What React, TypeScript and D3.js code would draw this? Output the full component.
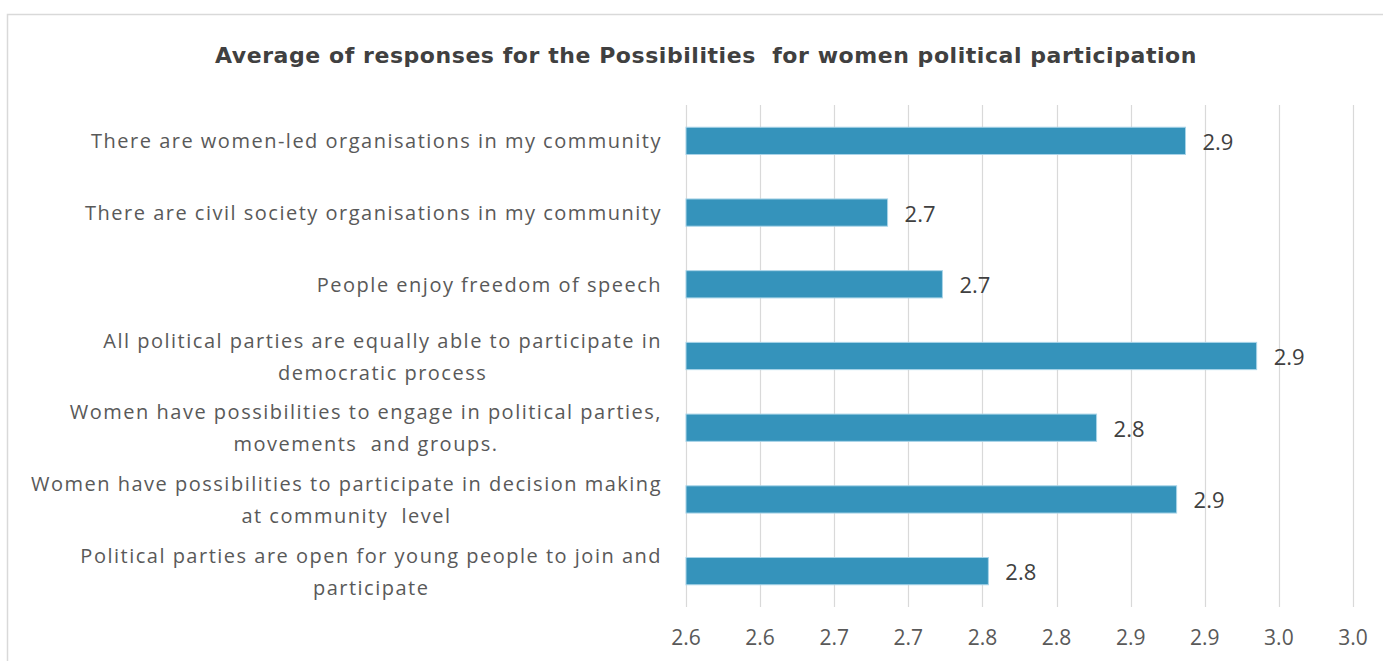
import React, { useEffect, useRef } from "react";
import * as d3 from "d3";

const TITLE = "Average of responses for the Possibilities  for women political participation";

const categories: string[] = [
  "There are women-led organisations in my community",
  "There are civil society organisations in my community",
  "People enjoy freedom of speech",
  "All political parties are equally able to participate in\ndemocratic process",
  "Women have possibilities to engage in political parties,\nmovements  and groups.",
  "Women have possibilities to participate in decision making\nat community  level",
  "Political parties are open for young people to join and\nparticipate",
];

const values: number[] = [2.887, 2.686, 2.723, 2.935, 2.827, 2.881, 2.754];

const valueLabels: string[] = ["2.9", "2.7", "2.7", "2.9", "2.8", "2.9", "2.8"];

const tickValues: number[] = [2.55, 2.6, 2.65, 2.7, 2.75, 2.8, 2.85, 2.9, 2.95, 3.0];
const tickLabels: string[] = ["2.6", "2.6", "2.7", "2.7", "2.8", "2.8", "2.9", "2.9", "3.0", "3.0"];

const W = 1383;
const H = 661;
const FONT = "'Open Sans', 'DejaVu Sans', sans-serif";
const TITLE_FONT = "'DejaVu Sans', 'Open Sans', sans-serif";
const TEXT = "#595959";

export default function App() {
  const ref = useRef<SVGSVGElement | null>(null);

  useEffect(() => {
    const svg = d3.select(ref.current);
    svg.selectAll("*").remove();

    const x = d3.scaleLinear().domain([2.55, 3.0]).range([686, 1353]);
    const y = d3
      .scaleBand<number>()
      .domain(d3.range(categories.length))
      .range([105, 607])
      .paddingInner(0.62)
      .paddingOuter(0.31);

    // outer border
    svg
      .append("rect")
      .attr("x", 7.5)
      .attr("y", 14.5)
      .attr("width", W + 20)
      .attr("height", H + 20)
      .attr("fill", "#fff")
      .attr("stroke", "#d9d9d9")
      .attr("stroke-width", 1.5);

    // title
    const title = svg
      .append("text")
      .attr("x", 706)
      .attr("y", 55)
      .attr("text-anchor", "middle")
      .attr("dominant-baseline", "central")
      .attr("font-family", TITLE_FONT)
      .attr("font-weight", "bold")
      .attr("font-size", 22)
      .attr("fill", "#404040")
      .style("white-space", "pre")
      .text(TITLE);
    const tw = (title.node() as SVGTextElement).getComputedTextLength();
    const targetTitle = 982;
    if (tw > 0) {
      title.attr("letter-spacing", (targetTitle - tw) / TITLE.length);
    }

    // gridlines
    svg
      .append("g")
      .selectAll("line")
      .data(tickValues)
      .join("line")
      .attr("x1", (d) => Math.round(x(d)) + 0.5)
      .attr("x2", (d) => Math.round(x(d)) + 0.5)
      .attr("y1", 105)
      .attr("y2", 607)
      .attr("stroke", "#d9d9d9")
      .attr("stroke-width", 1.2);

    // tick labels
    svg
      .append("g")
      .selectAll("text")
      .data(tickValues)
      .join("text")
      .attr("x", (d) => x(d))
      .attr("y", 637)
      .attr("text-anchor", "middle")
      .attr("dominant-baseline", "central")
      .attr("font-family", FONT)
      .attr("font-size", 21)
      .attr("fill", TEXT)
      .text((_, i) => tickLabels[i]);

    // bars
    svg
      .append("g")
      .selectAll("rect")
      .data(values)
      .join("rect")
      .attr("x", x(2.55))
      .attr("y", (_, i) => y(i)!)
      .attr("width", (d) => x(d) - x(2.55))
      .attr("height", y.bandwidth())
      .attr("fill", "#3593BB")
      .attr("stroke", "#a9d4e8")
      .attr("stroke-width", 1);

    // value labels
    svg
      .append("g")
      .selectAll("text")
      .data(values)
      .join("text")
      .attr("x", (d) => x(d) + 17)
      .attr("y", (_, i) => y(i)! + y.bandwidth() / 2)
      .attr("dominant-baseline", "central")
      .attr("font-family", FONT)
      .attr("font-size", 22)
      .attr("fill", "#404040")
      .text((_, i) => valueLabels[i]);

    // category labels
    const rightEdge = 662;
    const lineH = 32;
    categories.forEach((cat, i) => {
      const lines = cat.split("\n");
      const cy = y(i)! + y.bandwidth() / 2;
      const g = svg.append("g");
      const texts = lines.map((ln, j) =>
        g
          .append("text")
          .attr("y", cy + (j - (lines.length - 1) / 2) * lineH)
          .attr("dominant-baseline", "central")
          .attr("text-anchor", "middle")
          .attr("font-family", FONT)
          .attr("font-size", 20)
          .attr("letter-spacing", 1.5)
          .attr("fill", TEXT)
          .style("white-space", "pre")
          .text(ln)
      );
      const widths = texts.map((t) => (t.node() as SVGTextElement).getComputedTextLength());
      const maxW = Math.max(...widths);
      texts.forEach((t) => t.attr("x", rightEdge - maxW / 2));
    });
  }, []);

  return (
    <svg
      ref={ref}
      width={W}
      height={H}
      style={{ position: "absolute", left: 0, top: 0, background: "#fff" }}
    />
  );
}
